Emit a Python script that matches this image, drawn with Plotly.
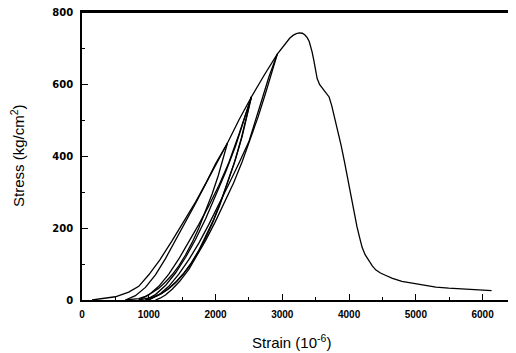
import plotly.graph_objects as go

# Initial loading up to first unloading point
load1_x = [150, 300, 500, 700, 850, 1000, 1164, 1350, 1537, 1700, 1881, 2050, 2179]
load1_y = [0, 3, 9, 22, 38, 70, 111, 165, 222, 272, 333, 390, 436]

# Unloading 1
unload1_x = [2179, 2120, 2040, 1950, 1850, 1750, 1650, 1550, 1450, 1350, 1250, 1150, 1050, 950, 850, 750, 650]
unload1_y = [436, 395, 345, 295, 245, 200, 160, 125, 95, 70, 50, 33, 20, 10, 4, 1, 0]

# Reloading 2
load2_x = [650, 800, 950, 1100, 1250, 1400, 1550, 1700, 1850, 2000, 2179, 2350, 2537]
load2_y = [0, 12, 35, 70, 115, 165, 215, 268, 322, 378, 436, 500, 564]

# Unloading 2
unload2_x = [2537, 2470, 2380, 2280, 2170, 2060, 1950, 1840, 1730, 1620, 1510, 1400, 1290, 1180, 1070, 960, 850]
unload2_y = [564, 510, 445, 380, 318, 262, 212, 168, 130, 97, 70, 48, 30, 17, 8, 3, 0]

# Reloading 2b (second cycle at the same level)
load2b_x = [850, 1000, 1150, 1300, 1450, 1600, 1750, 1900, 2050, 2200, 2350, 2537]
load2b_y = [0, 14, 38, 72, 114, 160, 210, 262, 318, 382, 460, 564]

# Unloading 2b
unload2b_x = [2537, 2480, 2400, 2300, 2190, 2080, 1970, 1860, 1750, 1640, 1530, 1420, 1310, 1200, 1100, 1020, 950]
unload2b_y = [564, 515, 455, 392, 330, 274, 223, 178, 138, 104, 76, 53, 34, 19, 9, 3, 0]

# Reloading 3
load3_x = [950, 1100, 1250, 1400, 1550, 1700, 1850, 2000, 2150, 2300, 2420, 2537, 2730, 2925]
load3_y = [0, 15, 40, 75, 118, 168, 225, 288, 355, 428, 495, 564, 625, 683]

# Unloading 3
unload3_x = [2925, 2850, 2750, 2640, 2520, 2400, 2270, 2130, 1990, 1850, 1731, 1600, 1463, 1350, 1250, 1170, 1100]
unload3_y = [683, 635, 575, 510, 445, 385, 325, 268, 215, 165, 125, 85, 52, 30, 14, 5, 0]

# Final reloading, peak and softening branch
load4_x = [1000, 1150, 1300, 1450, 1600, 1750, 1900, 2050, 2200, 2350, 2500, 2650, 2800, 2925,
           3000, 3060, 3110, 3160, 3210, 3254, 3300, 3340, 3375, 3403, 3425, 3445, 3470, 3500,
           3522, 3560, 3620, 3701, 3740, 3780, 3830, 3880, 3930, 3980, 4030, 4075, 4119, 4160,
           4194, 4240, 4299, 4350, 4403, 4470, 4552, 4650, 4791, 5000, 5149, 5300, 5493, 5800,
           6000, 6134]
load4_y = [0, 14, 38, 72, 112, 158, 210, 265, 322, 380, 440, 530, 620, 683,
           702, 716, 727, 735, 740, 742, 741, 736, 728, 718, 706, 690, 668, 640,
           615, 598, 582, 564, 540, 510, 470, 430, 385, 335, 286, 242, 203, 172,
           147, 126, 108, 94, 83, 75, 68, 60, 52, 45, 40, 36, 33, 30,
           28, 26]

x_ticks = [0, 1000, 2000, 3000, 4000, 5000, 6000]
y_ticks = [0, 200, 400, 600, 800]

segments = [(load1_x, load1_y), (unload1_x, unload1_y), (load2_x, load2_y),
            (unload2_x, unload2_y), (load2b_x, load2b_y), (unload2b_x, unload2b_y),
            (load3_x, load3_y), (unload3_x, unload3_y), (load4_x, load4_y)]

fig = go.Figure()
for sx, sy in segments:
    fig.add_trace(go.Scatter(x=sx, y=sy, mode="lines",
                             line=dict(color="black", width=1.3),
                             showlegend=False, hoverinfo="skip", cliponaxis=False))

xtickfont = dict(family="Liberation Sans", size=10, color="black", weight="bold")
ytickfont = dict(family="DejaVu Sans", size=10, color="black", weight="bold")
fig.update_xaxes(range=[0, 6500], tickvals=x_ticks, ticktext=[str(v) for v in x_ticks],
                 ticks="inside", ticklen=6, tickwidth=1.2, tickcolor="black",
                 minor=dict(ticks="inside", ticklen=3, dtick=500, tickcolor="black"),
                 showline=True, linecolor="black", linewidth=1.8, mirror=True,
                 showgrid=False, zeroline=False, tickfont=xtickfont, ticklabelstandoff=4,
                 ticklabeloverflow="allow")
fig.update_yaxes(range=[0, 800], tickvals=y_ticks, ticktext=[str(v) for v in y_ticks],
                 ticks="inside", ticklen=6, tickwidth=1.2, tickcolor="black",
                 minor=dict(ticks="inside", ticklen=3, dtick=100, tickcolor="black"),
                 showline=True, linecolor="black", linewidth=1.8, mirror=False,
                 showgrid=False, zeroline=False, tickfont=ytickfont, ticklabelstandoff=5,
                 ticklabeloverflow="allow")

# page body adds an 8px offset; margins compensate for it
fig.update_layout(
    width=516, height=353,
    margin=dict(l=74, r=8, t=4, b=61, autoexpand=False),
    paper_bgcolor="white", plot_bgcolor="white",
    shapes=[dict(type="line", xref="paper", yref="paper", x0=0, x1=1.02, y0=1, y1=1,
                 line=dict(color="black", width=1.8))],
    annotations=[
        dict(text="Strain (10<sup>-6</sup>)", xref="paper", yref="paper", x=0.483, y=0,
             yshift=-41, showarrow=False, xanchor="center", yanchor="middle",
             font=dict(family="Liberation Sans", size=15, color="black")),
        dict(text="Stress (kg/cm<sup>2</sup>)", xref="paper", yref="paper", x=0, y=0.5,
             xshift=-65, textangle=-90, showarrow=False, xanchor="center", yanchor="middle",
             font=dict(family="Liberation Sans", size=15, color="black")),
    ],
)

fig.write_html("out.html")
